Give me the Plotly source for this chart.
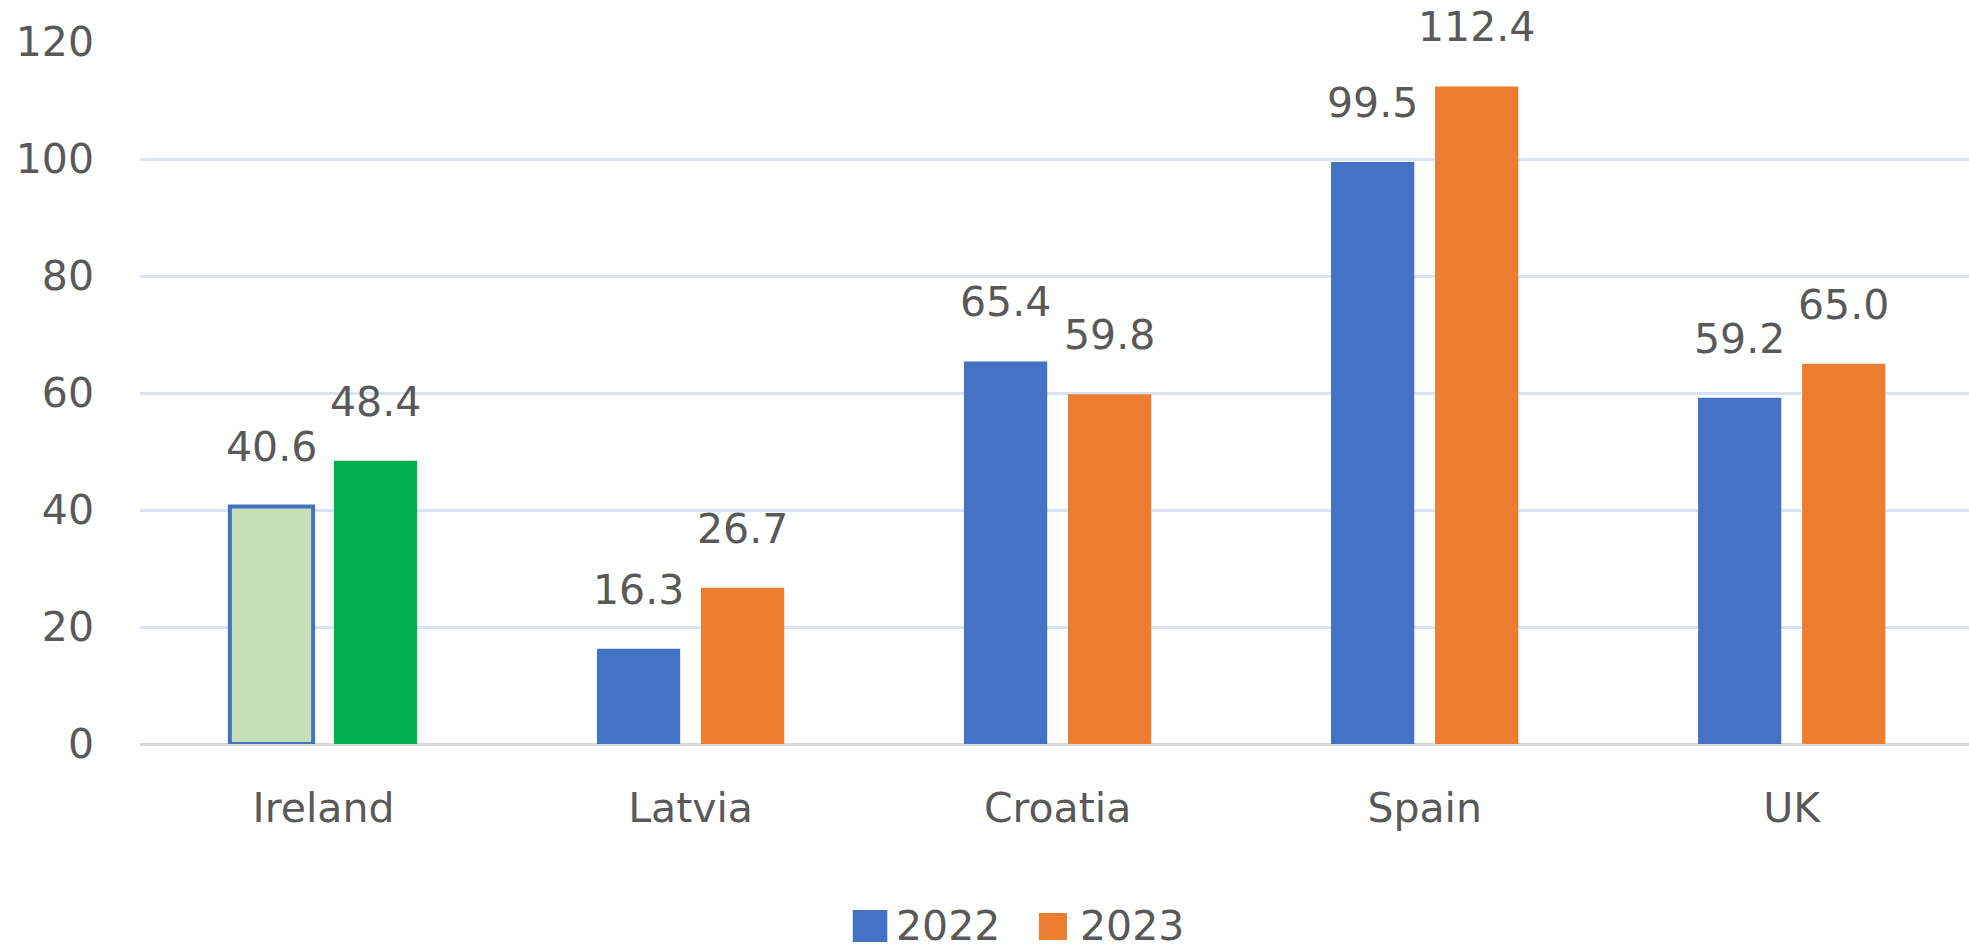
import plotly.graph_objects as go

categories = ["Ireland", "Latvia", "Croatia", "Spain", "UK"]
values_2022 = [40.6, 16.3, 65.4, 99.5, 59.2]
values_2023 = [48.4, 26.7, 59.8, 112.4, 65.0]
series_names = ["2022", "2023"]
y_ticks = [0, 20, 40, 60, 80, 100, 120]

BLUE = "#4472C4"
ORANGE = "#ED7D31"
TEXT = "#595959"
FONT = "DejaVu Sans"
FS = 41

colors_2022 = ["#C5E0B4"] + [BLUE] * 4
colors_2023 = ["#00B050"] + [ORANGE] * 4
line_w_2022 = [4, 0, 0, 0, 0]

fig = go.Figure()
fig.add_trace(go.Bar(
    x=categories, y=values_2022, name=series_names[0], showlegend=False,
    marker=dict(color=colors_2022, line=dict(color=BLUE, width=line_w_2022)),
))
fig.add_trace(go.Bar(
    x=categories, y=values_2023, name=series_names[1], showlegend=False,
    marker=dict(color=colors_2023, line=dict(width=0)),
))

bargap = 0.433
bargroupgap = 0.2
slot = (1 - bargap) / 2
annotations = []
for i, cat in enumerate(categories):
    for j, vals in enumerate([values_2022, values_2023]):
        off = (-0.5 + j) * slot
        annotations.append(dict(
            x=i + off, y=vals[i], xref="x", yref="y",
            text=f"{vals[i]:.1f}", showarrow=False,
            yanchor="bottom", yshift=33,
            font=dict(family=FONT, size=FS, color=TEXT),
        ))

# manual legend (large square swatches like the reference)
legend_items = [
    dict(name=series_names[0], color=BLUE, box=(0.3897, 0.4086, -0.2821, -0.2365), tx=0.4125),
    dict(name=series_names[1], color=ORANGE, box=(0.4915, 0.5068, -0.2792, -0.2407), tx=0.5130),
]
shapes = []
for it in legend_items:
    x0, x1, y0, y1 = it["box"]
    shapes.append(dict(type="rect", xref="paper", yref="paper",
                       x0=x0, x1=x1, y0=y0, y1=y1,
                       fillcolor=it["color"], line=dict(width=0)))
    annotations.append(dict(
        x=it["tx"], y=-0.2593, xref="paper", yref="paper",
        text=it["name"], showarrow=False, xanchor="left", yanchor="middle",
        font=dict(family=FONT, size=FS, color=TEXT),
    ))

fig.update_layout(
    width=1969, height=947,
    margin=dict(l=140, r=0, t=42, b=203),
    paper_bgcolor="white", plot_bgcolor="white",
    barmode="group", bargap=bargap, bargroupgap=bargroupgap,
    font=dict(family=FONT, size=FS, color=TEXT),
    showlegend=False,
    annotations=annotations,
    shapes=shapes,
    xaxis=dict(
        range=[-0.5, 4.483], showgrid=False, showline=False,
        ticks="", ticklabelstandoff=36,
        tickfont=dict(family=FONT, size=FS, color=TEXT),
    ),
    yaxis=dict(
        range=[0, 120], tickvals=y_ticks, showgrid=True,
        gridcolor="#DAE3F3", gridwidth=3,
        zeroline=True, zerolinecolor="#D9D9D9", zerolinewidth=3,
        showline=False, ticks="", ticklabelstandoff=45,
        tickfont=dict(family=FONT, size=FS, color=TEXT),
    ),
)

fig.write_html(
    "out.html",
    config={"displayModeBar": False},
    post_script="document.body.style.margin='0px';document.body.style.overflow='hidden';",
)
